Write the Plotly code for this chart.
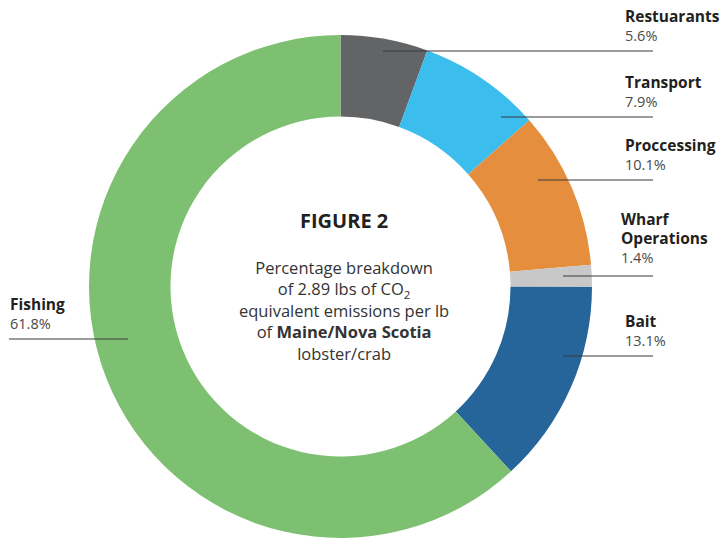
import plotly.graph_objects as go

W, H = 720, 539

categories = ["Restuarants", "Transport", "Proccessing", "Wharf Operations", "Bait", "Fishing"]
label_text = ["Restuarants", "Transport", "Proccessing", "Wharf<br>Operations", "Bait", "Fishing"]
values = [5.6, 7.9, 10.1, 1.4, 13.1, 61.8]
pct_labels = ["5.6%", "7.9%", "10.1%", "1.4%", "13.1%", "61.8%"]
colors = ["#636466", "#3BBDED", "#E58F3E", "#C8C8C8", "#266599", "#7EC071"]

# layout helpers (pixel -> paper)
def px(x):
    return x / W

def py(y):
    return 1 - y / H

cx, cy, R = 340.5, 286.5, 251.5

fig = go.Figure(go.Pie(
    labels=categories,
    values=values,
    marker=dict(colors=colors, line=dict(width=0)),
    hole=0.676,
    sort=False,
    direction="clockwise",
    rotation=0,
    textinfo="none",
    showlegend=False,
    domain=dict(x=[px(cx - R), px(cx + R)], y=[py(cy + R), py(cy - R)]),
))

# label positions (left x, cap-top y) and leader lines (x0, x1, y)
label_pos = [(623, 8), (623, 74), (623, 137), (619, 211), (623, 313), (8, 296)]
leader = [(383, 653, 51), (501, 653, 117), (538, 653, 180), (563, 653, 276), (563, 653, 356), (9, 128, 339)]

annotations = []
for txt, pct, (lx, ly) in zip(label_text, pct_labels, label_pos):
    annotations.append(dict(
        x=px(lx), y=py(ly - 5), xref="paper", yref="paper",
        xanchor="left", yanchor="top", align="left", showarrow=False,
        text=f"<b><span style='font-size:15.5px'>{txt}</span></b><br><span style='color:#4a4a4a'>{pct}</span>",
        font=dict(family="Open Sans", size=14.5, color="#231f20"),
    ))

annotations.append(dict(
    x=px(344), y=py(221), xref="paper", yref="paper", showarrow=False,
    text="<b>FIGURE 2</b>",
    font=dict(family="Open Sans", size=20, color="#231f20"),
))
annotations.append(dict(
    x=px(344), y=py(310), xref="paper", yref="paper", showarrow=False,
    align="center",
    text=("Percentage breakdown<br>of 2.89 lbs of CO<sub>2</sub><br>"
          "equivalent emissions per lb<br>of <b>Maine/Nova Scotia</b><br>lobster/crab"),
    font=dict(family="Open Sans", size=16.5, color="#333333"),
))

shapes = []
for x0, x1, y in leader:
    shapes.append(dict(type="line", xref="paper", yref="paper",
                       x0=px(x0), x1=px(x1), y0=py(y), y1=py(y),
                       line=dict(color="#3a3a3a", width=1.2), layer="above"))

fig.update_layout(
    width=W, height=H,
    margin=dict(l=0, r=0, t=0, b=0),
    paper_bgcolor="white", plot_bgcolor="white",
    annotations=annotations, shapes=shapes,
)

fig.write_html("out.html", config={"displayModeBar": False},
               post_script="document.body.style.margin='0px';document.body.style.overflow='hidden';")
